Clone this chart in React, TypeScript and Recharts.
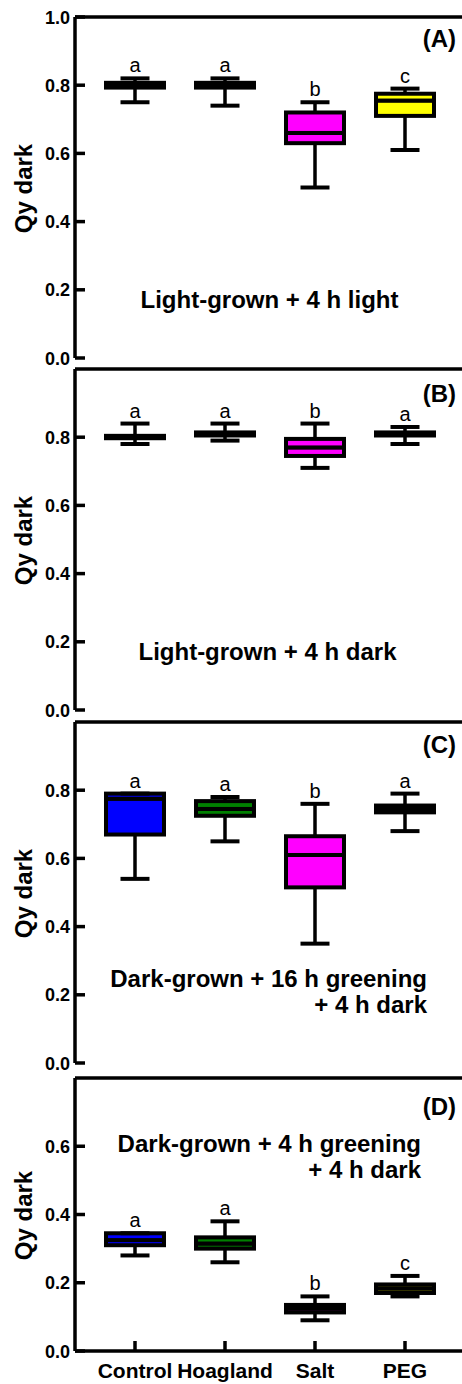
import {
  ComposedChart,
  Bar,
  XAxis,
  YAxis,
  ReferenceLine,
  LabelList,
} from "recharts";

const CATEGORIES = ["Control", "Hoagland", "Salt", "PEG"];
const BOX_COLORS = ["#0000ff", "#008000", "#ff00ff", "#ffff00"];

// (A) light-grown + 4 h light
const A_MIN = [0.75, 0.74, 0.5, 0.61];
const A_Q1 = [0.793, 0.793, 0.63, 0.71];
const A_MED = [0.8, 0.8, 0.66, 0.755];
const A_Q3 = [0.807, 0.807, 0.72, 0.775];
const A_MAX = [0.82, 0.82, 0.75, 0.79];
const A_LETTERS = ["a", "a", "b", "c"];

// (B) light-grown + 4 h dark
const B_MIN = [0.78, 0.79, 0.71, 0.78];
const B_Q1 = [0.797, 0.805, 0.745, 0.805];
const B_MED = [0.8, 0.809, 0.77, 0.809];
const B_Q3 = [0.804, 0.814, 0.795, 0.814];
const B_MAX = [0.84, 0.84, 0.84, 0.83];
const B_LETTERS = ["a", "a", "b", "a"];

// (C) dark-grown + 16 h greening + 4 h dark
const C_MIN = [0.54, 0.65, 0.35, 0.68];
const C_Q1 = [0.67, 0.725, 0.515, 0.735];
const C_MED = [0.775, 0.745, 0.61, 0.745];
const C_Q3 = [0.79, 0.768, 0.665, 0.755];
const C_MAX = [0.79, 0.78, 0.76, 0.79];
const C_LETTERS = ["a", "a", "b", "a"];

// (D) dark-grown + 4 h greening + 4 h dark
const D_MIN = [0.28, 0.26, 0.09, 0.16];
const D_Q1 = [0.31, 0.3, 0.113, 0.17];
const D_MED = [0.325, 0.315, 0.125, 0.183];
const D_Q3 = [0.345, 0.333, 0.135, 0.195];
const D_MAX = [0.345, 0.38, 0.16, 0.22];
const D_LETTERS = ["a", "a", "b", "c"];

const TICKS_FULL = [0, 0.2, 0.4, 0.6, 0.8, 1.0];
const TICKS_08 = [0, 0.2, 0.4, 0.6, 0.8];
const TICKS_06 = [0, 0.2, 0.4, 0.6];

const FONT = '"Liberation Sans", Arial, sans-serif';
const W = 462;
const PAD_T = 14;
const PAD_B = 14;
const AXIS_W = 3.5;

function buildRows(mn: number[], q1: number[], med: number[], q3: number[], mx: number[], letters: string[]) {
  return CATEGORIES.map((name, i) => ({
    name,
    color: BOX_COLORS[i],
    letter: letters[i],
    base: mn[i],
    lowW: q1[i] - mn[i],
    lowBox: med[i] - q1[i],
    highBox: q3[i] - med[i],
    highW: mx[i] - q3[i],
  }));
}

const PANELS = [
  { id: "A", top: 17, h: 341, yMax: 1.0, ticks: TICKS_FULL, rows: buildRows(A_MIN, A_Q1, A_MED, A_Q3, A_MAX, A_LETTERS), xLabels: false },
  { id: "B", top: 369, h: 341, yMax: 1.0, ticks: TICKS_08, rows: buildRows(B_MIN, B_Q1, B_MED, B_Q3, B_MAX, B_LETTERS), xLabels: false },
  { id: "C", top: 722, h: 341, yMax: 1.0, ticks: TICKS_08, rows: buildRows(C_MIN, C_Q1, C_MED, C_Q3, C_MAX, C_LETTERS), xLabels: false },
  { id: "D", top: 1078, h: 273, yMax: 0.8, ticks: TICKS_06, rows: buildRows(D_MIN, D_Q1, D_MED, D_Q3, D_MAX, D_LETTERS), xLabels: true },
];

function YTick(props: any) {
  const { x, y, payload } = props;
  return (
    <g>
      <line x1={x + 5} x2={x + 15} y1={y} y2={y} stroke="#000" strokeWidth={AXIS_W} />
      <text x={x} y={y} dy={6.5} textAnchor="end" fontSize={18} fontWeight="bold" fill="#000">
        {Number(payload.value).toFixed(1)}
      </text>
    </g>
  );
}

function makeXTick(showLabel: boolean) {
  return function XTick(props: any) {
    const { x, y, payload } = props;
    return (
      <g>
        <line x1={x} x2={x} y1={y} y2={y - 10} stroke="#000" strokeWidth={AXIS_W} />
        {showLabel && (
          <text x={x} y={y + 27} textAnchor="middle" fontSize={21} fontWeight="bold" fill="#000">
            {payload.value}
          </text>
        )}
      </g>
    );
  };
}

function LowWhisker(p: any) {
  const cx = p.x + p.width / 2;
  const cap = p.width * 0.25;
  const yb = p.y + p.height;
  return (
    <g>
      <line x1={cx} x2={cx} y1={p.y} y2={yb} stroke="#000" strokeWidth={3.5} />
      <line x1={cx - cap} x2={cx + cap} y1={yb} y2={yb} stroke="#000" strokeWidth={4} />
    </g>
  );
}

function HighWhisker(p: any) {
  const cx = p.x + p.width / 2;
  const cap = p.width * 0.25;
  return (
    <g>
      <line x1={cx} x2={cx} y1={p.y} y2={p.y + p.height} stroke="#000" strokeWidth={3.5} />
      <line x1={cx - cap} x2={cx + cap} y1={p.y} y2={p.y} stroke="#000" strokeWidth={4} />
    </g>
  );
}

function BoxPart(p: any) {
  const color = p.payload?.color ?? BOX_COLORS[p.index ?? 0];
  return (
    <rect x={p.x} y={p.y} width={p.width} height={Math.max(p.height, 0)} fill={color} stroke="#000" strokeWidth={4} />
  );
}

function Panel({ panel }: { panel: (typeof PANELS)[number] }) {
  const xH = panel.xLabels ? 34 : 0;
  const height = PAD_T + panel.h + xH + PAD_B;
  return (
    <div style={{ position: "absolute", left: 0, top: panel.top - PAD_T, width: W, height }}>
      <ComposedChart
        width={W}
        height={height}
        data={panel.rows}
        margin={{ top: PAD_T, right: 0, bottom: PAD_B, left: 0 }}
        barSize={58}
      >
        <XAxis
          dataKey="name"
          height={xH}
          padding={{ left: 15, right: 12 }}
          axisLine={{ stroke: "#000", strokeWidth: AXIS_W }}
          tickLine={false}
          tickSize={0}
          tickMargin={0}
          interval={0}
          tick={makeXTick(panel.xLabels)}
        />
        <YAxis
          width={75}
          domain={[0, panel.yMax]}
          ticks={panel.ticks}
          interval={0}
          allowDataOverflow
          axisLine={{ stroke: "#000", strokeWidth: AXIS_W }}
          tickLine={false}
          tickSize={0}
          tickMargin={5}
          tick={<YTick />}
        />
        <ReferenceLine y={panel.yMax} stroke="#000" strokeWidth={AXIS_W} />
        <Bar dataKey="base" stackId="s" fill="none" isAnimationActive={false} />
        <Bar dataKey="lowW" stackId="s" shape={LowWhisker} isAnimationActive={false} />
        <Bar dataKey="lowBox" stackId="s" shape={BoxPart} isAnimationActive={false} />
        <Bar dataKey="highBox" stackId="s" shape={BoxPart} isAnimationActive={false} />
        <Bar dataKey="highW" stackId="s" shape={HighWhisker} isAnimationActive={false}>
          <LabelList dataKey="letter" position="top" offset={6} fontSize={20} fill="#000" />
        </Bar>
      </ComposedChart>
    </div>
  );
}

const TXT = { fontSize: 24, fontWeight: "bold" as const, fill: "#000" };

export default function App() {
  return (
    <div
      style={{
        position: "absolute",
        left: 0,
        top: 0,
        width: W,
        height: 1384,
        background: "#fff",
        fontFamily: FONT,
        overflow: "hidden",
      }}
    >
      {PANELS.map((p) => (
        <Panel key={p.id} panel={p} />
      ))}
      <svg
        width={W}
        height={1384}
        style={{ position: "absolute", left: 0, top: 0, pointerEvents: "none", fontFamily: FONT }}
      >
        {PANELS.map((p) => {
          const cy = p.top + p.h / 2 + 1;
          return (
            <text key={p.id} x={31.5} y={cy} transform={`rotate(-90, 31.5, ${cy})`} textAnchor="middle" {...TXT}>
              Qy dark
            </text>
          );
        })}
        <text x={456} y={47} textAnchor="end" {...TXT}>(A)</text>
        <text x={456} y={402} textAnchor="end" {...TXT}>(B)</text>
        <text x={456} y={753} textAnchor="end" {...TXT}>(C)</text>
        <text x={456} y={1115} textAnchor="end" {...TXT}>(D)</text>

        <text x={269.5} y={308} textAnchor="middle" {...TXT}>Light-grown + 4 h light</text>
        <text x={267.5} y={660} textAnchor="middle" {...TXT}>Light-grown + 4 h dark</text>
        <text x={427} y={987} textAnchor="end" {...TXT}>Dark-grown + 16 h greening</text>
        <text x={427} y={1013} textAnchor="end" {...TXT}>+ 4 h dark</text>
        <text x={421} y={1152} textAnchor="end" {...TXT}>Dark-grown + 4 h greening</text>
        <text x={421} y={1178} textAnchor="end" {...TXT}>+ 4 h dark</text>
      </svg>
    </div>
  );
}
